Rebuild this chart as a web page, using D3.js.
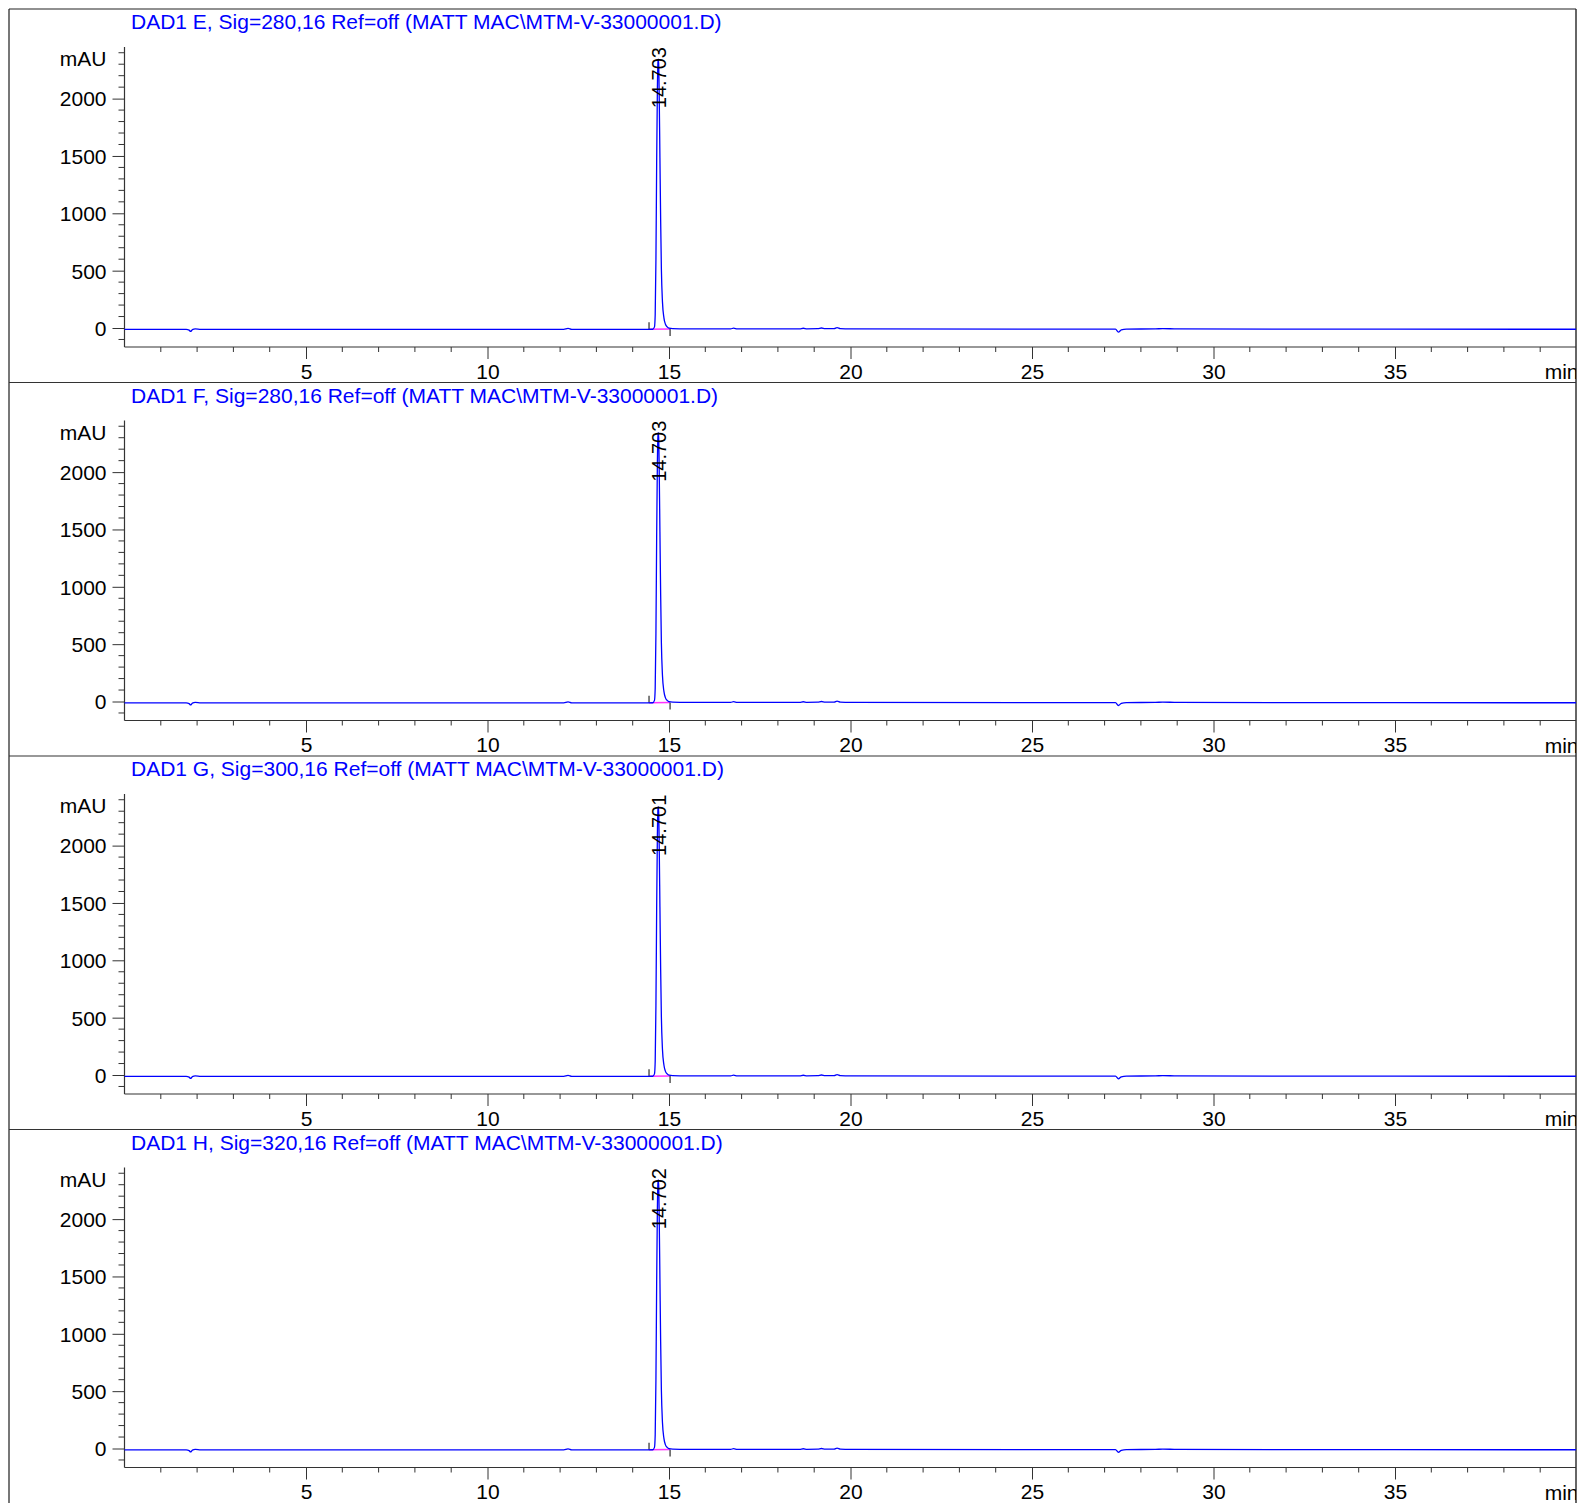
<!DOCTYPE html>
<html>
<head>
<meta charset="utf-8">
<script src="https://cdn.jsdelivr.net/npm/d3@7"></script>
<style>
  html, body { margin: 0; padding: 0; background: #fff; }
  svg { display: block; }
  text { font-family: "Liberation Sans", Arial, sans-serif; }
</style>
</head>
<body>
<svg id="chart" width="1577" height="1503"></svg>
<script>
// ---------------- DATA ----------------
const titles = [
  "DAD1 E, Sig=280,16 Ref=off (MATT MAC\\MTM-V-33000001.D)",
  "DAD1 F, Sig=280,16 Ref=off (MATT MAC\\MTM-V-33000001.D)",
  "DAD1 G, Sig=300,16 Ref=off (MATT MAC\\MTM-V-33000001.D)",
  "DAD1 H, Sig=320,16 Ref=off (MATT MAC\\MTM-V-33000001.D)"
];
const peakLabels = ["14.703", "14.703", "14.701", "14.702"];
const peakTimes = [14.703, 14.703, 14.701, 14.702];
const peakHeights = [2345, 2344, 2339, 2341];
const yTickLabels = [0, 500, 1000, 1500, 2000];
const xTickLabels = [5, 10, 15, 20, 25, 30, 35];
const xUnit = "min";
const yUnit = "mAU";
// integration baseline markers (start, end) in min and mAU
const baseStart = [14.45, -10];
const baseEnd = [15.03, -8];

// retention time (min) of the sampled trace points
const times = [0, 1.70, 1.78, 1.82, 1.87, 1.95, 2.10, 5, 10, 12.10, 12.22, 12.32,
  14.40, 14.55, 14.60, 14.62, 14.64, 14.66, 14.68, 14.695, 14.703, 14.715, 14.73,
  14.75, 14.77, 14.79, 14.82, 14.86, 14.90, 14.95, 15.00, 15.10, 15.5,
  16.7, 16.78, 16.88, 18.6, 18.7, 18.8, 19.1, 19.2, 19.3, 19.55, 19.63, 19.72,
  20, 25, 27.30, 27.38, 27.46, 27.6, 28.4, 28.6, 29, 35, 40];

const sigE = [-12, -12, -18, -30, -14, -8, -12, -12, -12, -12, -4, -12,
  -12, -11, 10, 118, 595, 1435, 2080, 2315, 2345, 2305, 2030,
  1485, 940, 515, 228, 89, 35, 10, -2, -6, -8,
  -8, -1, -8, -8, -2, -7, -6, 0, -6, -6, 3, -6,
  -8, -10, -10, -36, -16, -9, -8, -5, -8, -10, -11];
const sigF = [-12, -12, -18, -30, -14, -8, -12, -12, -12, -12, -4, -12,
  -12, -11, 10, 117, 592, 1432, 2078, 2314, 2344, 2303, 2026,
  1480, 935, 512, 226, 88, 34, 10, -2, -6, -8,
  -8, -1, -8, -8, -2, -7, -6, 0, -6, -6, 3, -6,
  -8, -10, -10, -35, -16, -9, -8, -5, -8, -10, -11];
const sigG = [-12, -12, -18, -30, -14, -8, -12, -12, -12, -12, -4, -12,
  -12, -11, 10, 122, 605, 1445, 2090, 2317, 2339, 2297, 2010,
  1465, 922, 505, 223, 87, 34, 10, -2, -6, -8,
  -8, -1, -8, -8, -2, -7, -6, 0, -6, -6, 3, -6,
  -8, -10, -10, -33, -16, -9, -8, -5, -8, -10, -11];
const sigH = [-12, -12, -18, -30, -14, -8, -12, -12, -12, -12, -4, -12,
  -12, -11, 10, 120, 600, 1440, 2085, 2315, 2341, 2300, 2018,
  1475, 930, 510, 226, 88, 34, 10, -2, -6, -8,
  -8, -1, -8, -8, -2, -7, -6, 0, -6, -6, 3, -6,
  -8, -10, -10, -33, -16, -9, -8, -5, -8, -10, -11];
const signals = [sigE, sigF, sigG, sigH];

// ---------------- LAYOUT ----------------
const W = 1577, H = 1503;
const frameL = 9, frameT = 9, frameR = 1576;
const panelH = 373.5;
const axisL = 124.5, axisR = 1576.5;
const plotTop = 38, plotBot = 338; // offsets within a panel
const blue = "#0000ff", axisCol = "#333";
const fontFam = '"Liberation Sans", Arial, sans-serif';

const svg = d3.select("#chart");

const x = d3.scaleLinear().domain([0, 40]).range([axisL, axisR]);

// frame
svg.append("line").attr("x1", frameL).attr("x2", frameL).attr("y1", frameT).attr("y2", H)
  .attr("stroke", "#777").attr("stroke-width", 2);
svg.append("line").attr("x1", frameR).attr("x2", frameR).attr("y1", frameT).attr("y2", H)
  .attr("stroke", "#333").attr("stroke-width", 1.5);
svg.append("line").attr("x1", frameL).attr("x2", frameR).attr("y1", frameT).attr("y2", frameT)
  .attr("stroke", "#222").attr("stroke-width", 1.2);

svg.append("defs").append("clipPath").attr("id", "frameClip")
  .append("rect").attr("x", frameL).attr("y", frameT).attr("width", frameR - frameL).attr("height", H);

signals.forEach((sig, i) => {
  const top = frameT + i * panelH;
  const g = svg.append("g").attr("clip-path", "url(#frameClip)");

  if (i > 0) {
    g.append("line").attr("x1", frameL).attr("x2", frameR).attr("y1", top).attr("y2", top)
      .attr("stroke", "#333").attr("stroke-width", 1.2);
  }

  const y = d3.scaleLinear().domain([-165.6, 2450]).range([top + plotBot, top + plotTop]);

  // title
  g.append("text").attr("x", 131).attr("y", top + 20)
    .attr("fill", blue).attr("font-size", 21).text(titles[i]);

  // y axis
  const yAxis = d3.axisLeft(y).tickValues(yTickLabels).tickSize(12).tickFormat(d3.format("d"));
  const ya = g.append("g").attr("transform", `translate(${axisL},0)`).call(yAxis);
  ya.select(".domain").remove();
  ya.selectAll("line").attr("stroke", axisCol);
  ya.selectAll("text").attr("font-size", 21).attr("fill", "#000")
    .attr("x", -18).attr("dy", "0.35em").style("font-family", fontFam);
  const yMinor = d3.range(-100, 2401, 100).filter(v => v % 500 !== 0);
  g.append("g").selectAll("line").data(yMinor).join("line")
    .attr("x1", axisL - 6).attr("x2", axisL).attr("y1", d => y(d)).attr("y2", d => y(d))
    .attr("stroke", axisCol);
  g.append("line").attr("x1", axisL).attr("x2", axisL).attr("y1", top + plotTop).attr("y2", top + plotBot)
    .attr("stroke", axisCol).attr("stroke-width", 1.2);
  g.append("text").attr("x", axisL - 18).attr("y", top + 57).attr("text-anchor", "end")
    .attr("font-size", 21).text(yUnit);

  // x axis
  const xAxis = d3.axisBottom(x).tickValues(xTickLabels).tickSize(12).tickFormat(d3.format("d"));
  const xa = g.append("g").attr("transform", `translate(0,${top + plotBot})`).call(xAxis);
  xa.select(".domain").remove();
  xa.selectAll("line").attr("stroke", axisCol);
  xa.selectAll("text").attr("font-size", 21).attr("fill", "#000").attr("y", 17).attr("dy", "0.71em")
    .style("font-family", fontFam);
  const xMinor = d3.range(1, 40).filter(v => v % 5 !== 0);
  g.append("g").selectAll("line").data(xMinor).join("line")
    .attr("x1", d => x(d)).attr("x2", d => x(d)).attr("y1", top + plotBot).attr("y2", top + plotBot + 5)
    .attr("stroke", axisCol);
  g.append("line").attr("x1", axisL).attr("x2", axisR).attr("y1", top + plotBot).attr("y2", top + plotBot)
    .attr("stroke", axisCol).attr("stroke-width", 1.2);
  g.append("text").attr("x", x(40) + 2).attr("y", top + 370).attr("text-anchor", "end")
    .attr("font-size", 21).text(xUnit);

  // baseline integration marker
  g.append("line").attr("x1", x(baseStart[0])).attr("x2", x(baseEnd[0]))
    .attr("y1", y(baseStart[1])).attr("y2", y(baseEnd[1]))
    .attr("stroke", "#ff33ff").attr("stroke-width", 1.5);
  g.append("line").attr("x1", x(baseStart[0])).attr("x2", x(baseStart[0]))
    .attr("y1", y(baseStart[1])).attr("y2", y(baseStart[1]) - 7)
    .attr("stroke", "#555").attr("stroke-width", 1.5);
  g.append("line").attr("x1", x(baseEnd[0])).attr("x2", x(baseEnd[0]))
    .attr("y1", y(baseEnd[1])).attr("y2", y(baseEnd[1]) + 7)
    .attr("stroke", "#555").attr("stroke-width", 1.5);

  // trace
  const pts = times.map((t, k) => [t, sig[k]]);
  const line = d3.line().x(d => x(d[0])).y(d => y(d[1])).curve(d3.curveMonotoneX);
  g.append("path").datum(pts).attr("d", line)
    .attr("fill", "none").attr("stroke", blue).attr("stroke-width", 1.3);

  // peak label
  const lx = x(peakTimes[i]) + 7.5, ly = y(peakHeights[i]) - 12;
  g.append("text").attr("transform", `translate(${lx},${ly}) rotate(-90)`)
    .attr("text-anchor", "end").attr("font-size", 20).attr("fill", "#000").text(peakLabels[i]);
});
</script>
</body>
</html>
